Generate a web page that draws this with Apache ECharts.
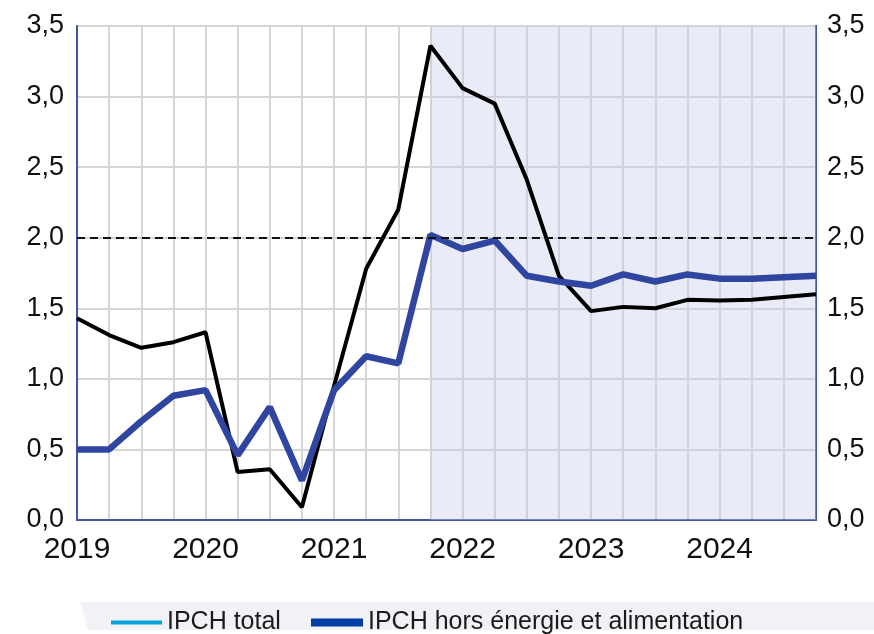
<!DOCTYPE html>
<html>
<head>
<meta charset="utf-8">
<script src="https://cdn.jsdelivr.net/npm/echarts@6/dist/echarts.min.js"></script>
<style>
  html, body { margin: 0; padding: 0; background: #fff; }
  #chart { width: 874px; height: 634px; }
</style>
</head>
<body>
<div id="chart"></div>
<script>
// quarters 2019 T1 .. 2024 T4
const quarters = [];
[2019, 2020, 2021, 2022, 2023, 2024].forEach((y) => {
  for (let q = 1; q <= 4; q++) quarters.push(y + " T" + q);
});

const ipchTotal = [
  1.43, 1.31, 1.22, 1.26, 1.33, 0.34, 0.36, 0.09,
  0.95, 1.78, 2.2, 3.36, 3.06, 2.95, 2.41, 1.73,
  1.48, 1.51, 1.5, 1.56, 1.555, 1.56, 1.58, 1.6,
];
const ipchCore = [
  0.5, 0.5, 0.7, 0.88, 0.92, 0.46, 0.8, 0.28,
  0.92, 1.16, 1.11, 2.02, 1.92, 1.98, 1.73, 1.69,
  1.66, 1.74, 1.69, 1.74, 1.71, 1.71, 1.72, 1.73,
];
const targetLevel = 2.0;
const projectionStart = "2021 T4";
const projectionEnd = "2024 T4";

const fmt = (v) => v.toFixed(1).replace(".", ",");

const chart = echarts.init(document.getElementById("chart"));

const yAxisCommon = {
  type: "value",
  min: 0,
  max: 3.5,
  interval: 0.5,
  axisTick: { show: false },
  axisLine: { show: true, lineStyle: { color: "#4555a8", width: 2 } },
  axisLabel: {
    formatter: fmt,
    color: "#111",
    fontSize: 27,
    fontFamily: "Liberation Sans",
  },
};

const option = {
  animation: false,
  backgroundColor: "#fff",
  grid: {
    left: 77,
    right: 58,
    top: 26,
    bottom: 114,
    show: true,
    borderColor: "#4555a8",
    borderWidth: 2,
    backgroundColor: "transparent",
  },
  graphic: [
    {
      type: "polygon",
      z: -10,
      shape: { points: [[80, 602], [874, 602], [874, 630], [88, 630]] },
      style: { fill: "#f1f2f6" },
    },
  ],
  legend: [
    {
      data: [{ name: "IPCH total", itemStyle: { color: "#0aa0dc" } }],
      left: 106,
      top: 605,
      icon: "rect",
      itemWidth: 51,
      itemHeight: 4,
      itemGap: 5,
      textStyle: { fontSize: 25, color: "#1a1a1a", fontFamily: "Liberation Sans" },
    },
    {
      data: [{ name: "IPCH hors énergie et alimentation", itemStyle: { color: "#003da5" } }],
      left: 306,
      top: 605,
      icon: "rect",
      itemWidth: 52,
      itemHeight: 8,
      textStyle: { fontSize: 25, color: "#1a1a1a", fontFamily: "Liberation Sans" },
    },
  ],
  xAxis: {
    type: "category",
    data: quarters,
    boundaryGap: false,
    axisTick: { show: false },
    axisLine: { show: true, lineStyle: { color: "#4555a8", width: 2 } },
    splitLine: { show: true, interval: 0, lineStyle: { color: "#d6d6d6", width: 2 } },
    axisLabel: {
      interval: (i) => i % 4 === 0,
      formatter: (v) => v.slice(0, 4),
      color: "#111",
      fontSize: 30,
      fontFamily: "Liberation Sans",
      margin: 15,
    },
  },
  yAxis: [
    Object.assign({}, yAxisCommon, {
      position: "left",
      axisLabel: Object.assign({}, yAxisCommon.axisLabel, { margin: 13 }),
      splitLine: { show: true, lineStyle: { color: "#d6d6d6", width: 2 } },
    }),
    Object.assign({}, yAxisCommon, {
      position: "right",
      axisLabel: Object.assign({}, yAxisCommon.axisLabel, { margin: 11 }),
      splitLine: { show: false },
    }),
  ],
  series: [
    {
      name: "IPCH total",
      type: "line",
      data: ipchTotal,
      showSymbol: false,
      z: 3,
      lineStyle: { color: "#000", width: 4 },
      itemStyle: { color: "#000" },
      markArea: {
        silent: true,
        itemStyle: { color: "rgba(196, 202, 235, 0.38)" },
        data: [[{ xAxis: projectionStart }, { xAxis: projectionEnd }]],
      },
      markLine: {
        silent: true,
        symbol: "none",
        label: { show: false },
        lineStyle: { color: "#111", type: [8, 5], width: 2 },
        data: [{ yAxis: targetLevel }],
      },
    },
    {
      name: "IPCH hors énergie et alimentation",
      type: "line",
      data: ipchCore,
      showSymbol: false,
      z: 4,
      lineStyle: { color: "#2f459f", width: 6.5 },
      itemStyle: { color: "#2f459f" },
    },
  ],
};

chart.setOption(option);
</script>
</body>
</html>
